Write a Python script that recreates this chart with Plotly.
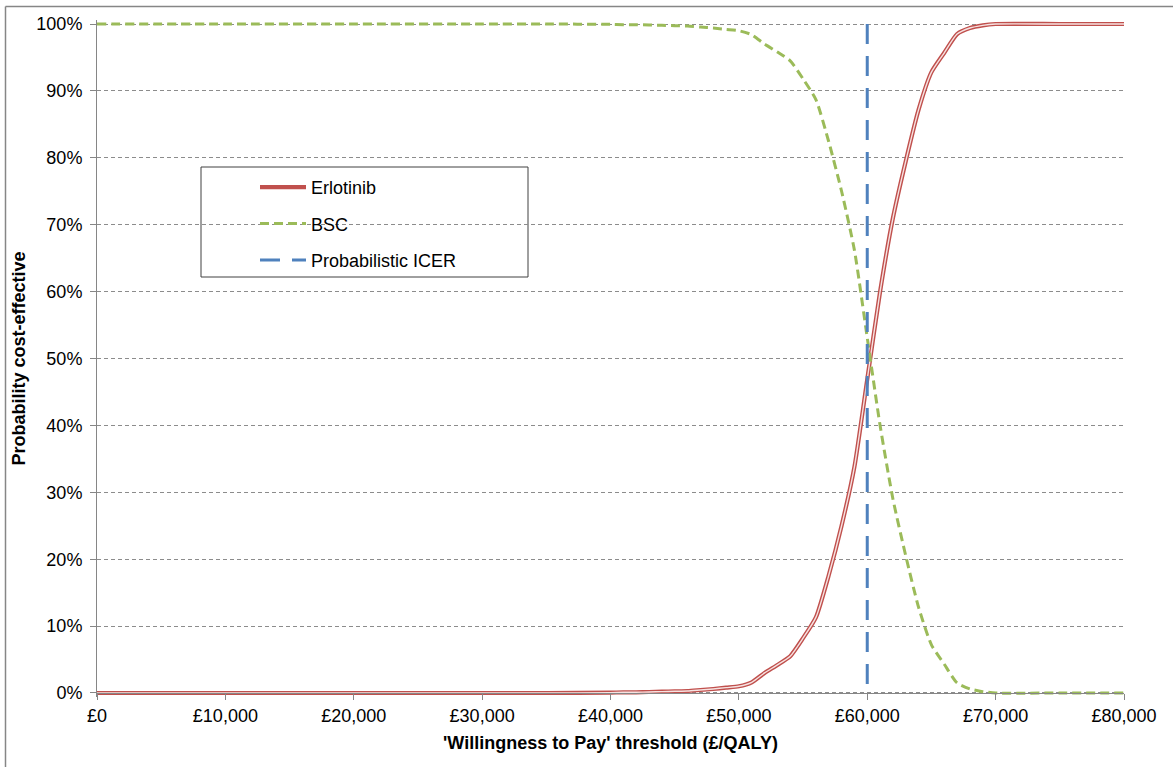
import plotly.graph_objects as go

# Willingness-to-pay thresholds (£/QALY)
wtp = [0, 10000, 20000, 30000, 35000, 40000, 41000, 42000, 43000, 44000, 45000,
       46000, 47000, 48000, 49000, 50000, 51000, 52000, 53000, 54000, 55000,
       56000, 57000, 58000, 59000, 60000, 61000, 62000, 63000, 64000, 65000,
       66000, 67000, 68000, 69000, 70000, 75000, 80000]

# Probability cost-effective (%)
erlotinib = [0, 0, 0, 0, 0, 0.05, 0.1, 0.1, 0.15, 0.2, 0.25,
             0.3, 0.45, 0.6, 0.8, 1.0, 1.6, 3.0, 4.2, 5.5, 8.2,
             11.3, 17.6, 25.0, 33.8, 46.9, 60.0, 71.0, 79.5, 87.2, 92.8,
             95.7, 98.5, 99.4, 99.8, 100, 100, 100]
bsc = [100, 100, 100, 100, 100, 99.95, 99.9, 99.9, 99.85, 99.8, 99.75,
       99.7, 99.55, 99.4, 99.2, 99.0, 98.4, 97.0, 95.8, 94.5, 91.8,
       88.7, 82.4, 75.0, 66.2, 53.1, 40.0, 29.0, 20.5, 12.8, 7.2,
       4.3, 1.5, 0.6, 0.2, 0, 0, 0]

icer_x = [60000, 60000]
icer_y = [100, 0]

x_ticks = [0, 10000, 20000, 30000, 40000, 50000, 60000, 70000, 80000]
x_tick_labels = ["£0", "£10,000", "£20,000", "£30,000", "£40,000",
                 "£50,000", "£60,000", "£70,000", "£80,000"]
y_ticks = [0, 10, 20, 30, 40, 50, 60, 70, 80, 90, 100]
y_tick_labels = ["0%", "10%", "20%", "30%", "40%", "50%", "60%", "70%",
                 "80%", "90%", "100%"]

FONT = "Liberation Sans, Arial, sans-serif"
AXIS_COL = "#868686"
W, H = 1173, 767
PL, PR, PT, PB = 97, 1124, 24, 693  # plot area pixel bounds for 0..80000 / 100..0
PAD = 0.6  # % padding so lines at 0/100 are not clipped
unit = (PB - PT) / 100.0
top_m = PT - PAD * unit
bot_px = PB + PAD * unit

def px_x(p):
    return (p - PL) / (PR - PL)

def px_y(p):
    return (bot_px - p) / (bot_px - top_m)

fig = go.Figure()

fig.add_trace(go.Scatter(
    x=wtp, y=erlotinib, mode="lines", name="Erlotinib",
    legendgroup="erl",
    line=dict(color="#C0504D", width=4.2, shape="spline", smoothing=0.6),
))
fig.add_trace(go.Scatter(
    x=wtp, y=erlotinib, mode="lines", name="Erlotinib",
    legendgroup="erl", showlegend=False, hoverinfo="skip",
    line=dict(color="#F6E2E1", width=1.4, shape="spline", smoothing=0.6),
))
fig.add_trace(go.Scatter(
    x=wtp, y=bsc, mode="lines", name="BSC", legendgroup="bsc",
    line=dict(color="#9BBB59", width=3, dash="9px,5px", shape="spline", smoothing=0.6),
))
fig.add_trace(go.Scatter(
    x=icer_x, y=icer_y, mode="lines", name="Probabilistic ICER",
    legendgroup="icer",
    line=dict(color="#4F81BD", width=3, dash="20px,12px"),
))

shapes = [
    # legend box
    dict(type="rect", xref="paper", yref="paper",
         x0=px_x(201), x1=px_x(528), y0=px_y(277), y1=px_y(167),
         line=dict(color="#404040", width=1), fillcolor="rgba(0,0,0,0)", layer="below"),
    # outer chart frame (left and top)
    dict(type="line", xref="paper", yref="paper",
         x0=px_x(5.5), x1=px_x(5.5), y0=px_y(6.5), y1=px_y(800),
         line=dict(color=AXIS_COL, width=1.5)),
    dict(type="line", xref="paper", yref="paper",
         x0=px_x(5.5), x1=px_x(1200), y0=px_y(6.5), y1=px_y(6.5),
         line=dict(color=AXIS_COL, width=1.5)),
]

fig.update_layout(
    width=W, height=H,
    margin=dict(l=PL, r=W - PR, t=top_m, b=H - bot_px, pad=0),
    paper_bgcolor="white", plot_bgcolor="white",
    font=dict(family=FONT, size=18, color="#000000"),
    showlegend=True,
    legend=dict(
        x=px_x(255), y=px_y(169), xanchor="left", yanchor="top",
        bgcolor="rgba(0,0,0,0)", borderwidth=0,
        font=dict(family=FONT, size=18, color="#000000"),
        tracegroupgap=10, itemwidth=46,
    ),
    shapes=shapes,
    xaxis=dict(
        range=[0, 80000], tickvals=x_ticks, ticktext=x_tick_labels,
        showgrid=False, zeroline=False,
        showline=True, linecolor=AXIS_COL, linewidth=1,
        ticks="outside", ticklen=6, tickcolor=AXIS_COL, tickwidth=1,
        tickfont=dict(family=FONT, size=18),
        anchor="free", position=PAD * unit / (bot_px - top_m),
        title=dict(text="'Willingness to Pay' threshold (£/QALY)",
                   font=dict(family=FONT, size=18, weight="bold"), standoff=11),
    ),
    yaxis=dict(
        range=[-PAD, 100 + PAD], tickvals=y_ticks, ticktext=y_tick_labels,
        showgrid=True, gridcolor="#8C8C8C", gridwidth=1, griddash="4px,3px",
        zeroline=False,
        showline=True, linecolor=AXIS_COL, linewidth=1,
        ticks="outside", ticklen=6, tickcolor=AXIS_COL, tickwidth=1,
        tickfont=dict(family=FONT, size=18), ticklabelstandoff=4,
        title=dict(text="Probability cost-effective",
                   font=dict(family=FONT, size=18, weight="bold"), standoff=6),
    ),
)

fig.write_html("out.html")
